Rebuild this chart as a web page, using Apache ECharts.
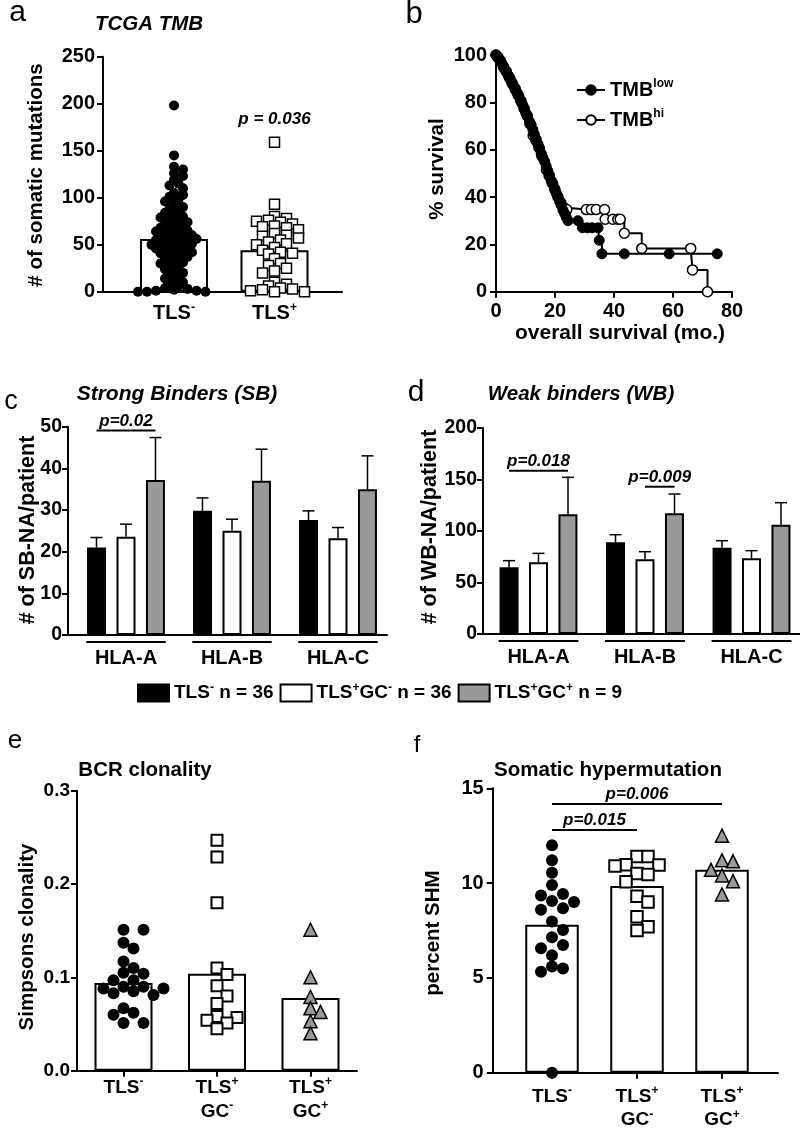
<!DOCTYPE html>
<html><head><meta charset="utf-8">
<script src="https://cdn.jsdelivr.net/npm/echarts@6/dist/echarts.min.js"></script>
<style>html,body{margin:0;padding:0;background:#fff}#c{width:800px;height:1138px}</style>
</head><body><div id="c"></div>
<script>
const FONT = '"Liberation Sans", Arial, Helvetica, sans-serif';

// ---------------- data ----------------
// panel a
const aCategories = ['TLS^{-}', 'TLS^{+}'];
const aBarMeans = [56, 44];
const aTlsNeg = [198,145,133,130,126,123,119,115,113,110,105,103,101,98,96,93,90,88,86,84,
  82,80,79,77,75,74,72,71,70,68,67,66,65,64,63,62,61,60,59,58,57,56,56,55,54,53,52,51,50,50,
  49,48,47,46,45,44,43,42,41,40,38,37,35,33,31,30,28,26,24,22,20,18,16,14,12,10,8,6,4,3,2,1,1,0,0,0];
const aTlsPos = [159,93,80,78,76,75,74,72,70,69,68,66,62,60,59,57,55,53,51,50,47,44,42,41,40,35,30,28,25,22,20,10,8,6,4,3,2,1,0,0];
const aPText = 'p = 0.036';
const aPValue = 183;

// panel b (Kaplan-Meier)
const kmNames = ['TMB^{low}', 'TMB^{hi}'];
const kmLowTime = [0,0.6,1.2,1.8,2.4,3.0,3.5,4.1,4.8,5.3,5.9,6.5,7.2,7.8,8.4,9.0,9.6,10.1,10.7,11.3,11.9,12.5,13.0,13.6,14.2,14.8,15.3,15.9,16.5,17.0,17.6,18.2,18.7,19.3,19.9,20.5,21.0,21.6,22.1,22.7,23.3,23.8,24.4,27.8,29.3,31.0,32.6,34.6,35.0,35.9,43.5,58.7,75.0];
const kmLowSurv = [100,99,98,97,95.5,94,93,91.5,90,88.5,87,86,84,82.5,80.5,79,77,75.5,74,72,70.5,68.5,66.5,64.5,62.5,60.5,58.5,56.5,55,53,51,49,47,45.5,43.5,41.5,40,38,36.5,34.5,33,31.5,30,30,27,27,27,27,21.7,16,16,16,16];
const kmHiTime = [0,0.7,1.5,2.5,3.5,4.5,5.5,6.5,7.5,8.5,9.5,10.5,11.5,12.6,13.5,14.5,15.5,17.1,18,19,20,21,22,23,24,30.6,32.3,34,36.8,37,39.6,41.3,42.1,43.5,49.4,66,66.6,71.7];
const kmHiSurv = [100,99,97.5,95,93,90.5,88,85.5,83,80.5,77.5,74.5,71,66,64,61,57.5,51.4,49,46,43,40,37.5,35.5,34.7,34.7,34.7,34.7,34.7,30.6,30.6,30.6,30.6,24.7,18.3,18.3,9.2,0];

// panels c, d
const hlaCategories = ['HLA-A', 'HLA-B', 'HLA-C'];
const groupNames = ['TLS^{-} n = 36', 'TLS^{+}GC^{-} n = 36', 'TLS^{+}GC^{+} n = 9'];
const sbTlsNeg = [21.0, 29.8, 27.6], sbTlsNegUp = [23.4, 32.9, 29.8];
const sbGcNeg = [23.6, 25.0, 23.2],  sbGcNegUp = [26.6, 27.8, 25.8];
const sbGcPos = [37.2, 37.0, 35.0],  sbGcPosUp = [47.4, 44.6, 43.0];
const wbTlsNeg = [64.7, 89.0, 83.8], wbTlsNegUp = [71.2, 96.4, 90.6];
const wbGcNeg = [69.6, 72.5, 73.5],  wbGcNegUp = [78.3, 79.9, 80.9];
const wbGcPos = [116.2, 117.2, 106.1], wbGcPosUp = [152.1, 135.9, 127.5];
const sbPvals = [{text: 'p=0.02', from: [0, 0], to: [0, 2], value: 49.1}];
const wbPvals = [{text: 'p=0.018', from: [0, 0], to: [0, 2], value: 158.5},
                 {text: 'p=0.009', from: [1, 1], to: [1, 2], value: 143}];

// panels e, f
const efCategories = ['TLS^{-}', 'TLS^{+}\nGC^{-}', 'TLS^{+}\nGC^{+}'];
const eBarMeans = [0.094, 0.104, 0.078];
const eTlsNeg = [0.151,0.151,0.137,0.131,0.117,0.110,0.105,0.104,0.097,0.097,0.090,0.090,0.088,0.088,0.085,0.083,0.081,0.067,0.062,0.060,0.051,0.051];
const eGcNeg = [0.247,0.229,0.180,0.110,0.103,0.091,0.080,0.072,0.058,0.057,0.054,0.051,0.045];
const eGcPos = [0.151,0.100,0.079,0.067,0.063,0.053,0.040];
const fBarMeans = [7.8, 9.85, 10.7];
const fTlsNeg = [12.0,11.2,10.55,9.9,9.42,9.35,9.05,9.0,8.67,8.6,7.97,7.53,7.14,6.74,6.56,6.2,5.6,5.5,5.33,0];
const fGcNeg = [11.4,11.4,10.97,10.95,10.9,10.5,10.45,10.07,9.3,9.0,8.23,7.7,7.5];
const fGcPos = [12.5,11.2,11.15,10.7,10.4,10.1,9.4];
const fPvals = [{text: 'p=0.015', from: [0, 0], to: [1, 0], value: 12.8},
                {text: 'p=0.006', from: [0, 0], to: [2, 0], value: 14.17}];

// ---------------- helpers ----------------
function rich(t) {
  return t.split('\n').map(line => line.split(/\^\{([^}]*)\}/)
    .map((p, i) => p === '' ? '' : (i % 2 ? '{s|' + p + '}' : '{n|' + p + '}')).join('')).join('\n');
}
function richStyles(fs, lh, sfs) {
  return {
    n: {fontFamily: FONT, fontSize: fs, fontWeight: 'bold', color: '#000', lineHeight: lh, verticalAlign: 'middle'},
    s: {fontFamily: FONT, fontSize: sfs, fontWeight: 'bold', color: '#000', lineHeight: Math.round(sfs), verticalAlign: 'top'}
  };
}
const AX = {color: '#000', width: 2};
const grids = [], xAxes = [], yAxes = [], series = [], graphics = [];

function catPanel(p) {
  const h = p.bottom - p.top;
  grids.push({left: p.axisLeft, top: p.top, width: p.axisRight - p.axisLeft, height: h, outerBoundsMode: 'none', containLabel: false});
  const gA = grids.length - 1;
  grids.push({left: p.catLeft, top: p.top, width: p.catWidth, height: h, outerBoundsMode: 'none', containLabel: false});
  const gC = grids.length - 1;
  xAxes.push({gridIndex: gA, type: 'value', min: 0, max: 1, axisLine: {show: true, onZero: false, lineStyle: AX},
    axisTick: {show: false}, axisLabel: {show: false}, splitLine: {show: false}});
  const xA = xAxes.length - 1;
  yAxes.push({gridIndex: gA, type: 'value', min: p.min, max: p.max, interval: p.interval,
    axisLine: {show: true, onZero: false, lineStyle: AX}, axisTick: {show: true, length: 6, lineStyle: AX},
    splitLine: {show: false},
    axisLabel: {show: true, color: '#000', fontFamily: FONT, fontWeight: 'bold', fontSize: p.yfs, margin: p.ymargin,
      formatter: p.yfmt || (v => String(v))}});
  const yA = yAxes.length - 1;
  xAxes.push({gridIndex: gC, type: 'category', data: p.categories, boundaryGap: true,
    axisLine: {show: false}, axisTick: {show: !!p.ticks, alignWithLabel: true, length: 6, lineStyle: AX},
    axisLabel: {show: true, interval: 0, margin: p.xmargin, formatter: p.richLabels ? (v => rich(v)) : undefined,
      color: '#000', fontFamily: FONT, fontWeight: 'bold', fontSize: p.xfs, lineHeight: p.xlh,
      rich: richStyles(p.xfs, p.xlh, p.xsfs)}});
  const xC = xAxes.length - 1;
  xAxes.push({gridIndex: gC, type: 'value', min: -0.5, max: p.categories.length - 0.5, show: false});
  const xV = xAxes.length - 1;
  yAxes.push({gridIndex: gC, type: 'value', min: p.min, max: p.max, show: false});
  const yC = yAxes.length - 1;
  return {gA, gC, xA, yA, xC, xV, yC, pxX: p.catWidth / p.categories.length, pxY: h / (p.max - p.min), n: p.categories.length};
}

// simple beeswarm layout computed in pixel space from the axis scales
function swarm(values, cat, ax, minDist, step) {
  const idx = values.map((v, i) => i).sort((a, b) => values[b] - values[a]);
  const placed = [], out = [];
  idx.forEach(i => {
    const yp = values[i] * ax.pxY;
    let off = 0;
    for (let k = 0; k < 400; k++) {
      const cand = k === 0 ? 0 : (k % 2 === 1 ? 1 : -1) * Math.ceil(k / 2) * step;
      if (placed.every(q => (q.x - cand) * (q.x - cand) + (q.y - yp) * (q.y - yp) >= minDist * minDist)) { off = cand; break; }
    }
    placed.push({x: off, y: yp});
    out.push([cat + off / ax.pxX, values[i]]);
  });
  return out;
}

function barSeries(ax, data, color, width, name, gap) {
  const s = {type: 'bar', xAxisIndex: ax.xC, yAxisIndex: ax.yC, data: data, barWidth: width, silent: true, z: 2,
    itemStyle: {color: color, borderColor: '#000', borderWidth: 2, opacity: 1}};
  if (name) s.name = name;
  if (gap) s.barGap = gap;
  return s;
}
function scatterSeries(ax, data, symbol, size, style) {
  return {type: 'scatter', xAxisIndex: ax.xV, yAxisIndex: ax.yC, data: data, symbol: symbol, symbolSize: size,
    itemStyle: Object.assign({opacity: 1}, style), silent: true, clip: false, z: 5};
}
const BAR_STEP = 29.5;
function errSeries(ax, means, ups, k) {
  return {type: 'custom', xAxisIndex: ax.xC, yAxisIndex: ax.yC, silent: true, clip: false, z: 4,
    data: means.map((m, i) => [i, m, ups[i]]), encode: {x: 0, y: [1, 2]},
    renderItem(params, api) {
      const i = api.value(0);
      const base = api.coord([i, api.value(1)]);
      const top = api.coord([i, api.value(2)]);
      const x = base[0] + (k - 1) * BAR_STEP;
      return {type: 'group', children: [
        {type: 'line', shape: {x1: x, y1: base[1], x2: x, y2: top[1]}, style: {stroke: '#000', lineWidth: 1.5}},
        {type: 'line', shape: {x1: x - 6, y1: top[1], x2: x + 6, y2: top[1]}, style: {stroke: '#000', lineWidth: 1.5}}]};
    }};
}
function underlineSeries(ax) {
  return {type: 'custom', xAxisIndex: ax.xC, yAxisIndex: ax.yC, silent: true, clip: false, z: 4,
    data: hlaCategories.map((c, i) => [i, 0]), encode: {x: 0, y: 1},
    renderItem(params, api) {
      const p = api.coord([api.value(0), 0]);
      const half = api.size([1, 0])[0] * 0.375;
      return {type: 'line', shape: {x1: p[0] - half, y1: p[1] + 7, x2: p[0] + half, y2: p[1] + 7}, style: {stroke: '#000', lineWidth: 2}};
    }};
}
function bracketSeries(ax, list, nSeries) {
  return {type: 'custom', xAxisIndex: ax.xC, yAxisIndex: ax.yC, silent: true, clip: false, z: 6,
    data: list.map(b => [b.from[0], b.from[1], b.to[0], b.to[1], b.value]), encode: {x: 0, y: 4},
    renderItem(params, api) {
      const y = api.value(4);
      const p1 = api.coord([api.value(0), y]);
      const p2 = api.coord([api.value(2), y]);
      const c0 = (nSeries - 1) / 2;
      const x1 = p1[0] + (api.value(1) - c0) * BAR_STEP;
      const x2 = p2[0] + (api.value(3) - c0) * BAR_STEP;
      return {type: 'group', children: [
        {type: 'line', shape: {x1: x1, y1: p1[1], x2: x2, y2: p1[1]}, style: {stroke: '#000', lineWidth: 2}},
        {type: 'text', x: (x1 + x2) / 2, y: p1[1] - 1, style: {text: list[params.dataIndex].text, fill: '#000',
          fontFamily: FONT, fontSize: 17, fontWeight: 'bold', fontStyle: 'italic', align: 'center', verticalAlign: 'bottom'}}]};
    }};
}

// ---------------- panel a ----------------
const A = catPanel({axisLeft: 103, axisRight: 342, top: 56.7, bottom: 291.7, catLeft: 123.75, catWidth: 201,
  min: 0, max: 250, interval: 50, yfs: 20, ymargin: 8, categories: aCategories, richLabels: true,
  xfs: 20, xlh: 24, xsfs: 12, xmargin: 10, ticks: false});
series.push(barSeries(A, aBarMeans, '#fff', 68));
series.push(scatterSeries(A, swarm(aTlsNeg, 0, A, 5.5, 4.5), 'circle', 10, {color: '#000'}));
series.push(scatterSeries(A, swarm(aTlsPos, 1, A, 7, 6), 'rect', 10, {color: '#fff', borderColor: '#000', borderWidth: 1.5}));
series.push({type: 'custom', xAxisIndex: A.xC, yAxisIndex: A.yC, silent: true, clip: false, z: 6,
  data: [[1, aPValue]], encode: {x: 0, y: 1},
  renderItem(params, api) {
    const p = api.coord([api.value(0), api.value(1)]);
    return {type: 'text', x: p[0], y: p[1], style: {text: aPText, fill: '#000', fontFamily: FONT, fontSize: 17,
      fontWeight: 'bold', fontStyle: 'italic', align: 'center', verticalAlign: 'middle'}};
  }});

// ---------------- panel b ----------------
grids.push({left: 496, top: 55, width: 236, height: 236.7, outerBoundsMode: 'none', containLabel: false});
const gB = grids.length - 1;
xAxes.push({gridIndex: gB, type: 'value', min: 0, max: 80, interval: 20,
  axisLine: {show: true, onZero: false, lineStyle: AX}, axisTick: {show: true, length: 6, lineStyle: AX},
  splitLine: {show: false}, axisLabel: {color: '#000', fontFamily: FONT, fontWeight: 'bold', fontSize: 20, margin: 10}});
const xB = xAxes.length - 1;
yAxes.push({gridIndex: gB, type: 'value', min: 0, max: 100, interval: 20,
  axisLine: {show: true, onZero: false, lineStyle: AX}, axisTick: {show: true, length: 6, lineStyle: AX},
  splitLine: {show: false}, axisLabel: {color: '#000', fontFamily: FONT, fontWeight: 'bold', fontSize: 20, margin: 9}});
const yB = yAxes.length - 1;
series.push({type: 'line', name: kmNames[1], xAxisIndex: xB, yAxisIndex: yB, step: 'end',
  data: kmHiTime.map((t, i) => [t, kmHiSurv[i]]), symbol: 'circle', symbolSize: 10, showAllSymbol: true,
  lineStyle: {color: '#000', width: 2}, itemStyle: {color: '#fff', borderColor: '#000', borderWidth: 1.5, opacity: 1}, silent: true, z: 2});
series.push({type: 'line', name: kmNames[0], xAxisIndex: xB, yAxisIndex: yB, step: 'end',
  data: kmLowTime.map((t, i) => [t, kmLowSurv[i]]), symbol: 'circle', symbolSize: 10, showAllSymbol: true,
  lineStyle: {color: '#000', width: 2}, itemStyle: {color: '#000', borderColor: '#000', borderWidth: 1, opacity: 1}, silent: true, z: 3});

// ---------------- panels c, d ----------------
function hlaPanel(cfg, vals, ups, pvals) {
  const P = catPanel(Object.assign({categories: hlaCategories, richLabels: false, xfs: 20, xlh: 24, xsfs: 12,
    xmargin: 11, ticks: false, yfs: 19.5, ymargin: 6}, cfg));
  const colors = ['#000', '#fff', '#999'];
  vals.forEach((v, k) => series.push(barSeries(P, v, colors[k], 19, groupNames[k], '55%')));
  vals.forEach((v, k) => series.push(errSeries(P, v, ups[k], k)));
  series.push(underlineSeries(P));
  series.push(bracketSeries(P, pvals, 3));
  return P;
}
hlaPanel({axisLeft: 68, axisRight: 387, top: 426.7, bottom: 635, catLeft: 73, catWidth: 318, min: 0, max: 50, interval: 10},
  [sbTlsNeg, sbGcNeg, sbGcPos], [sbTlsNegUp, sbGcNegUp, sbGcPosUp], sbPvals);
hlaPanel({axisLeft: 483, axisRight: 800, top: 428, bottom: 634, catLeft: 485.25, catWidth: 319.5, min: 0, max: 200, interval: 50},
  [wbTlsNeg, wbGcNeg, wbGcPos], [wbTlsNegUp, wbGcNegUp, wbGcPosUp], wbPvals);

// ---------------- panel e ----------------
const E = catPanel({axisLeft: 77, axisRight: 357, top: 790.7, bottom: 1070.7, catLeft: 76.75, catWidth: 280.5,
  min: 0, max: 0.3, interval: 0.1, yfs: 19, ymargin: 7, yfmt: v => v.toFixed(1), categories: efCategories, richLabels: true,
  xfs: 19, xlh: 24, xsfs: 12, xmargin: 5, ticks: true});
series.push(barSeries(E, eBarMeans, '#fff', 58));
series.push(scatterSeries(E, swarm(eTlsNeg, 0, E, 10.5, 10), 'circle', 12, {color: '#000'}));
series.push(scatterSeries(E, swarm(eGcNeg, 1, E, 10.5, 10), 'rect', 11, {color: '#fff', borderColor: '#000', borderWidth: 2}));
series.push(scatterSeries(E, swarm(eGcPos, 2, E, 10.5, 10), 'triangle', 13, {color: '#999', borderColor: '#000', borderWidth: 1.5}));

// ---------------- panel f ----------------
const F = catPanel({axisLeft: 492.7, axisRight: 778, top: 788.3, bottom: 1072.7, catLeft: 509.5, catWidth: 255,
  min: 0, max: 15, interval: 5, yfs: 20, ymargin: 9, categories: efCategories, richLabels: true,
  xfs: 19, xlh: 23.5, xsfs: 12, xmargin: 12, ticks: true});
series.push(barSeries(F, fBarMeans, '#fff', 53.5));
series.push(scatterSeries(F, swarm(fTlsNeg, 0, F, 11, 11), 'circle', 12, {color: '#000'}));
series.push(scatterSeries(F, swarm(fGcNeg, 1, F, 11, 11), 'rect', 11.5, {color: '#fff', borderColor: '#000', borderWidth: 2}));
series.push(scatterSeries(F, swarm(fGcPos, 2, F, 11, 11), 'triangle', 13, {color: '#999', borderColor: '#000', borderWidth: 1.5}));
series.push(bracketSeries(F, fPvals, 1));

// ---------------- texts ----------------
function txt(t, x, y, fs, opts) {
  opts = opts || {};
  graphics.push({type: 'text', x: x, y: y, rotation: opts.rot || 0, silent: true, z: 10,
    style: {text: t, fill: '#000', fontFamily: FONT, fontSize: fs, fontWeight: opts.weight || 'bold',
      fontStyle: opts.italic ? 'italic' : 'normal', align: 'center', verticalAlign: 'middle'}});
}
[['a', 17.5, 13, 30], ['b', 414, 14, 31], ['c', 11, 402, 27], ['d', 416, 393, 30], ['e', 15, 741, 26], ['f', 417, 745, 24]]
  .forEach(l => txt(l[0], l[1], l[2], l[3], {weight: 'normal'}));
txt('TCGA TMB', 149, 24, 20.5, {italic: true});
txt('Strong Binders (SB)', 177, 394, 21, {italic: true});
txt('Weak binders (WB)', 581, 394, 20.5, {italic: true});
txt('BCR clonality', 145, 770, 20.5);
txt('Somatic hypermutation', 608, 770, 20.5);
const R = Math.PI / 2;
txt('# of somatic mutations', 36, 175, 20.5, {rot: R});
txt('% survival', 437, 169, 20.5, {rot: R});
txt('overall survival (mo.)', 620, 333, 21);
txt('# of SB-NA/patient', 28, 530, 21.5, {rot: R});
txt('# of WB-NA/patient', 430, 527, 21.5, {rot: R});
txt('Simpsons clonality', 27.5, 937, 20.5, {rot: R});
txt('percent SHM', 433, 933, 20.5, {rot: R});

const chart = echarts.init(document.getElementById('c'), null, {renderer: 'canvas'});
chart.setOption({
  animation: false,
  backgroundColor: '#fff',
  grid: grids, xAxis: xAxes, yAxis: yAxes, series: series,
  legend: [
    {data: kmNames, left: 576, top: 78, orient: 'vertical', itemWidth: 28, itemHeight: 12, itemGap: 8, padding: 0,
      selectedMode: false, formatter: n => rich(n), textStyle: {color: '#000', rich: richStyles(20, 24, 12)}},
    {data: groupNames, left: 137, top: 682, orient: 'horizontal', itemWidth: 31, itemHeight: 17, itemGap: 6, padding: 0,
      icon: 'rect', selectedMode: false, formatter: n => rich(n), textStyle: {color: '#000', rich: richStyles(19, 22, 12)}}
  ],
  graphic: {elements: graphics}
});
</script></body></html>
